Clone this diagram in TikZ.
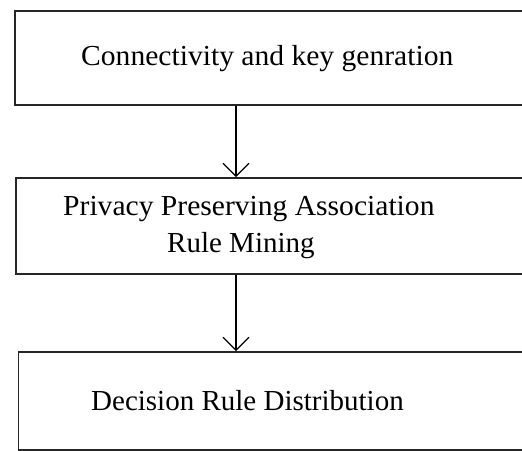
\documentclass[tikz,border=0pt]{standalone}
\usepackage{fontspec}
\setmainfont{Liberation Serif}
\usetikzlibrary{arrows.meta}

\tikzset{
  box/.style={draw=black!85, line width=1.6pt, rectangle, inner sep=0pt,
              anchor=north west, minimum width=540pt},
  label/.style={anchor=base west, inner sep=0pt, text=black,
                font=\fontsize{29}{34}\selectfont},
  wide/.style={xscale=1.02, transform shape},
  flow/.style={line width=1.2pt, -{Straight Barb[length=13pt,width=26pt,line width=1.1pt]}}
}

\begin{document}
\begin{tikzpicture}[x=1pt, y=-1pt]
  \useasboundingbox (0,0) rectangle (522,450);
  \clip (0,0) rectangle (522,450);

  % stage boxes (they run past the right edge)
  \node[box, minimum height=94pt] (conn) at (14,10) {};
  \node[box, minimum height=96pt] (mining) at (15,177) {};
  \node[box, minimum height=98pt] (dist) at (17.5,351) {};

  % stage captions
  \node[label, wide] (t1) at (81,65) {Connectivity and key genration};
  \node[label, wide] (t2) at (63,215) {Privacy Preserving Association};
  \node[label] (t3) at (167,252) {Rule Mining};
  \node[label] (t4) at (91,410) {Decision Rule Distribution};

  % flow between the stages
  \coordinate (axis) at (236,0);
  \draw[flow] (axis |- conn.south) -- (axis |- mining.north);
  \draw[flow] (axis |- mining.south) -- (axis |- dist.north);
\end{tikzpicture}
\end{document}
